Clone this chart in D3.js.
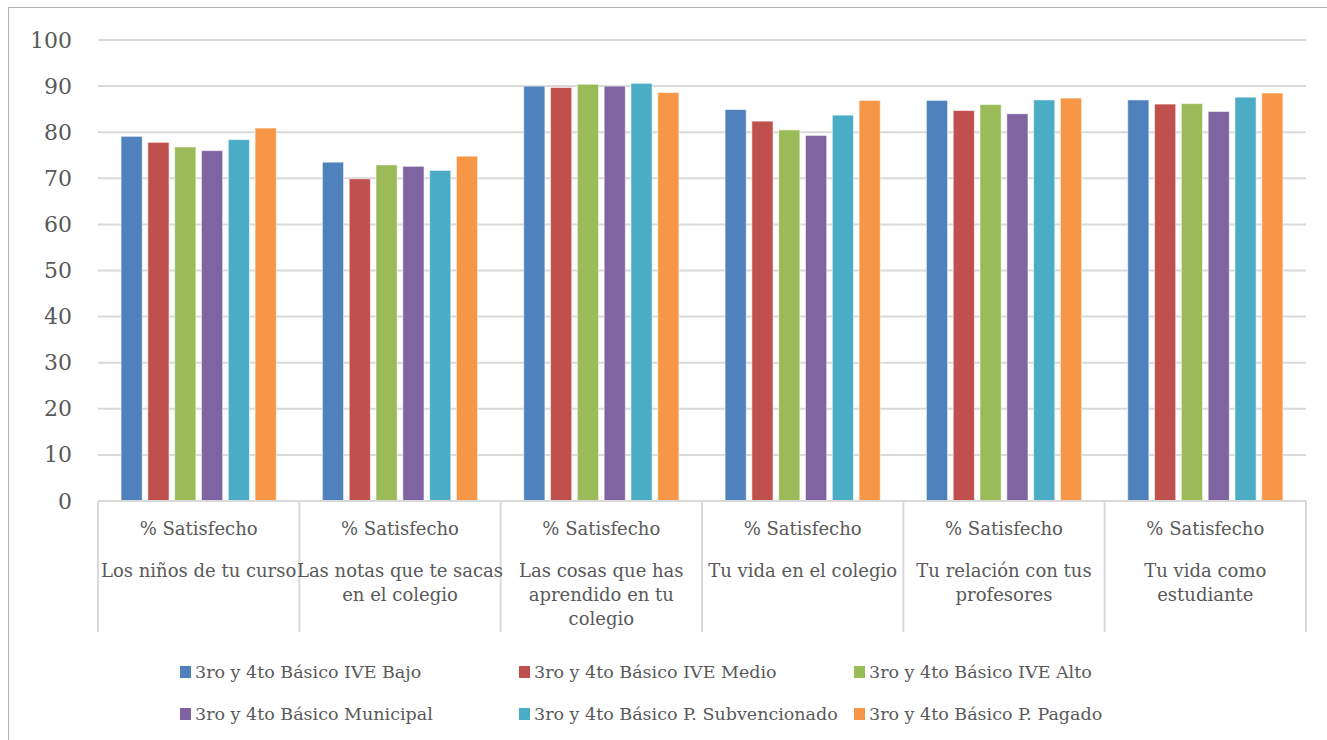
<!DOCTYPE html>
<html>
<head>
<meta charset="utf-8">
<script src="https://cdn.jsdelivr.net/npm/d3@7/dist/d3.min.js"></script>
<style>
  html, body { margin: 0; padding: 0; background: #fff; }
  svg { display: block; }
  text { font-family: "DejaVu Serif", "Liberation Serif", serif; fill: #595959; }
</style>
</head>
<body>
<svg id="chart" width="1327" height="740"></svg>
<script>
// ---- Data ----
const categories = [
  ["% Satisfecho", "", "Los niños de tu curso"],
  ["% Satisfecho", "", "Las notas que te sacas", "en el colegio"],
  ["% Satisfecho", "", "Las cosas que has", "aprendido en tu", "colegio"],
  ["% Satisfecho", "", "Tu vida en el colegio"],
  ["% Satisfecho", "", "Tu relación con tus", "profesores"],
  ["% Satisfecho", "", "Tu vida como", "estudiante"]
];
const seriesNames = [
  "3ro y 4to Básico IVE Bajo",
  "3ro y 4to Básico IVE Medio",
  "3ro y 4to Básico IVE Alto",
  "3ro y 4to Básico Municipal",
  "3ro y 4to Básico P. Subvencionado",
  "3ro y 4to Básico P. Pagado"
];
const ivebajo      = [79.1, 73.5, 90.0, 84.9, 86.9, 87.0];
const ivemedio     = [77.8, 69.9, 89.7, 82.4, 84.7, 86.1];
const ivealto      = [76.8, 72.9, 90.4, 80.5, 86.0, 86.2];
const municipal    = [76.0, 72.6, 90.0, 79.3, 84.0, 84.5];
const subvencionado= [78.4, 71.7, 90.6, 83.7, 87.0, 87.6];
const pagado       = [80.9, 74.8, 88.6, 86.9, 87.4, 88.5];
const seriesValues = [ivebajo, ivemedio, ivealto, municipal, subvencionado, pagado];
const colors = ["#4F81BD", "#C0504D", "#9BBB59", "#8064A2", "#4BACC6", "#F79646"];
const yTicks = [0, 10, 20, 30, 40, 50, 60, 70, 80, 90, 100];

(function () {
// ---- Layout ----
const svg = d3.select("#chart");
const mLeft = 98, mRight = 1306, mTop = 40, mBottom = 501;

// outer border
svg.append("rect").attr("x", 8.5).attr("y", 7.5).attr("width", 1340).attr("height", 760)
  .attr("fill", "none").attr("stroke", "#b3b3b3").attr("stroke-width", 1);

const x0 = d3.scaleBand().domain(d3.range(categories.length)).range([mLeft, mRight]).padding(0);
const x1 = d3.scaleBand().domain(d3.range(seriesNames.length)).range([0, x0.bandwidth()])
  .paddingInner(0.21).paddingOuter(0.86);
const y = d3.scaleLinear().domain([0, 100]).range([mBottom, mTop]);

// gridlines
svg.append("g").selectAll("line").data(yTicks.filter(d => d > 0)).join("line")
  .attr("x1", mLeft).attr("x2", mRight)
  .attr("y1", d => y(d)).attr("y2", d => y(d))
  .attr("stroke", "#d9d9d9").attr("stroke-width", 2);

// y axis labels
const yAxis = d3.axisLeft(y).tickValues(yTicks).tickSize(0).tickPadding(0);
const yg = svg.append("g").attr("transform", `translate(72,0)`).call(yAxis);
yg.select(".domain").remove();
yg.selectAll("text").attr("font-size", 22).attr("fill", "#595959")
  .attr("font-family", "DejaVu Serif, serif");

// bars
const groups = svg.append("g").selectAll("g").data(categories).join("g")
  .attr("transform", (d, i) => `translate(${x0(i)},0)`);
groups.selectAll("rect").data((d, ci) => seriesValues.map((s, si) => ({si, v: s[ci]}))).join("rect")
  .attr("x", d => x1(d.si))
  .attr("width", x1.bandwidth())
  .attr("y", d => y(d.v))
  .attr("height", d => y(0) - y(d.v))
  .attr("fill", d => colors[d.si])
  .attr("stroke", "rgba(255,255,255,0.55)").attr("stroke-width", 1);

// category axis (multi-level table style)
const axisColor = "#d9d9d9";
svg.append("line").attr("x1", mLeft).attr("x2", mRight).attr("y1", mBottom).attr("y2", mBottom)
  .attr("stroke", axisColor).attr("stroke-width", 2);
const seps = d3.range(categories.length + 1).map(i => i < categories.length ? x0(i) : mRight);
svg.append("g").selectAll("line").data(seps).join("line")
  .attr("x1", d => d).attr("x2", d => d).attr("y1", mBottom).attr("y2", 632)
  .attr("stroke", axisColor).attr("stroke-width", 2);

const labelG = svg.append("g").selectAll("text").data(categories).join("text")
  .attr("text-anchor", "middle")
  .attr("font-size", 18);
labelG.each(function(lines, i) {
  const t = d3.select(this);
  const cx = x0(i) + x0.bandwidth() / 2;
  t.append("tspan").attr("x", cx).attr("y", 535).text(lines[0]);
  lines.slice(2).forEach((ln, k) => {
    t.append("tspan").attr("x", cx).attr("y", 577 + k * 24).text(ln);
  });
});

// legend
const legCols = [180, 519, 854];
const legRows = [672, 714];
const leg = svg.append("g").selectAll("g").data(seriesNames).join("g")
  .attr("transform", (d, i) => `translate(${legCols[i % 3]},${legRows[Math.floor(i / 3)]})`);
leg.append("rect").attr("x", 0).attr("y", -6).attr("width", 11).attr("height", 12)
  .attr("fill", (d, i) => colors[i]);
leg.append("text").attr("x", 15).attr("y", 0).attr("dy", "0.35em")
  .attr("font-size", 17.5).text(d => d);
})();
</script>
</body>
</html>
